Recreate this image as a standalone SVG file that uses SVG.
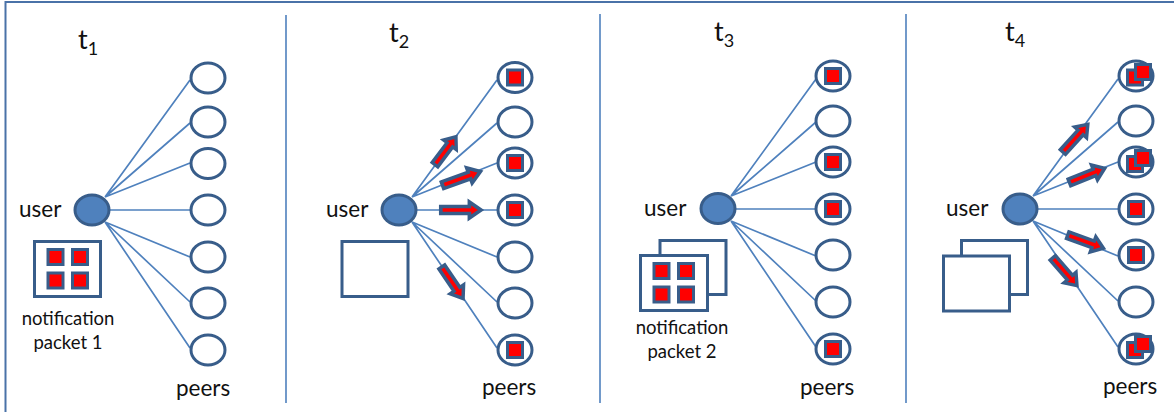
<svg xmlns="http://www.w3.org/2000/svg" width="1174" height="412" viewBox="0 0 1174 412">
<style>
text{font-family:"Lato","Liberation Sans",sans-serif;fill:#111;font-size:22.500px}
.small{font-size:18.500px;text-anchor:middle}
.t{font-size:27px}
.s{font-size:18px}
.l{stroke:#4f81bd;stroke-width:1.7;fill:none}
.p{fill:#fff;stroke:#385d8a;stroke-width:3}
.u{fill:#4f81bd;stroke:#385d8a;stroke-width:3}
.b{fill:#fff;stroke:#385d8a;stroke-width:3}
.r{fill:#f00;stroke:#385d8a;stroke-width:3}
.a{fill:#f00;stroke:#385d8a;stroke-width:3.500}
.d{stroke:#4f81bd;stroke-width:1.6;fill:none}
.f{stroke:#4a72a8;stroke-width:2;fill:none}
</style>
<defs>
<g id="fan">
<path class="l" d="M13 -13L98 -130M13 -13L98 -87M13 -13L98 -47M0 0L98 0M13 12L98 47M13 12L98 92M13 12L98 138"/>
</g>
<rect id="pk" class="r" x="-7.500" y="-7.500" width="15" height="15"/>
<path id="ar" class="a" d="M-20 -3.500L7 -3.500L7 -8L18 0L7 8L7 3.500L-20 3.500Z"/>
<g id="four">
<use href="#pk" x="55.500" y="257"/><use href="#pk" x="80" y="257"/>
<use href="#pk" x="55.500" y="280.500"/><use href="#pk" x="80" y="280.500"/>
</g>
<g id="ring"><ellipse class="p" rx="17" ry="15"/></g>
</defs>
<rect width="1174" height="412" fill="#fff"/>
<path class="f" d="M5.500 412V2H1174"/>
<g id="connectors">
<use href="#fan" x="92" y="210"/>
<use href="#fan" x="399" y="210"/>
<use href="#fan" x="718" y="209"/>
<use href="#fan" x="1020" y="209"/>
<path class="d" d="M286 15V403M600 14V403M906 14V403"/>
</g>
<g id="panel1">
<text x="78" y="49" class="t">t<tspan dy="6" class="s">1</tspan></text>
<text x="19" y="217">user</text>
<text x="176" y="396">peers</text>
<text x="68" y="325" class="small">notification</text>
<text x="68" y="349" class="small">packet 1</text>
</g>
<g id="panel2">
<text x="389" y="42" class="t">t<tspan dy="6" class="s">2</tspan></text>
<text x="326" y="217">user</text>
<text x="482" y="395">peers</text>
</g>
<g id="panel3">
<text x="714" y="41" class="t">t<tspan dy="6" class="s">3</tspan></text>
<text x="644" y="216">user</text>
<text x="800" y="395">peers</text>
<text x="682" y="334" class="small">notification</text>
<text x="682" y="358" class="small">packet 2</text>
</g>
<g id="panel4">
<text x="1005" y="41" class="t">t<tspan dy="6" class="s">4</tspan></text>
<text x="946" y="216">user</text>
<text x="1103" y="394">peers</text>
</g>
<g id="user1"><ellipse class="u" cx="92" cy="210" rx="17" ry="15"/></g>
<g id="user2"><ellipse class="u" cx="399" cy="210" rx="17" ry="15"/></g>
<g id="user3"><ellipse class="u" cx="718" cy="208.500" rx="17" ry="15"/></g>
<g id="user4"><ellipse class="u" cx="1020" cy="209" rx="17" ry="15"/></g>
<g id="packets">
<rect class="b" x="34.500" y="241.500" width="66" height="55"/>
<use href="#four"/>
<rect class="b" x="342" y="241.500" width="66" height="55"/>
<rect class="b" x="660" y="240.500" width="66" height="54"/>
<rect class="b" x="640.500" y="255.500" width="67" height="55"/>
<use href="#four" x="606" y="14"/>
<rect class="b" x="961.500" y="240.500" width="66" height="54"/>
<rect class="b" x="943.500" y="256" width="66" height="55"/>
</g>
<g id="peers1">
<use href="#ring" x="208" y="78"/><use href="#ring" x="208" y="122"/><use href="#ring" x="208" y="163.500"/><use href="#ring" x="208" y="210"/><use href="#ring" x="208" y="257"/><use href="#ring" x="208" y="303"/><use href="#ring" x="208" y="350"/>
</g>
<g id="peers2">
<use href="#ring" x="515" y="77.500"/><use href="#ring" x="515" y="122"/><use href="#ring" x="515" y="163"/><use href="#ring" x="515" y="210"/><use href="#ring" x="515" y="257"/><use href="#ring" x="515" y="303"/><use href="#ring" x="515" y="350"/>
<use href="#pk" x="515" y="77.500"/><use href="#pk" x="515" y="163"/><use href="#pk" x="515" y="210"/><use href="#pk" x="515" y="350"/>
</g>
<g id="peers3">
<use href="#ring" x="833" y="76"/><use href="#ring" x="833" y="121"/><use href="#ring" x="833" y="162"/><use href="#ring" x="833" y="209"/><use href="#ring" x="833" y="255"/><use href="#ring" x="833" y="302"/><use href="#ring" x="833" y="349"/>
<use href="#pk" x="833" y="76"/><use href="#pk" x="833" y="162"/><use href="#pk" x="833" y="209"/><use href="#pk" x="833" y="349"/>
</g>
<g id="peers4">
<use href="#ring" x="1136" y="76"/><use href="#ring" x="1136" y="121"/><use href="#ring" x="1136" y="162"/><use href="#ring" x="1136" y="209"/><use href="#ring" x="1136" y="255"/><use href="#ring" x="1136" y="302"/><use href="#ring" x="1136" y="349"/>
<use href="#pk" x="1135" y="77.500"/><use href="#pk" x="1143" y="72"/>
<use href="#pk" x="1135" y="164"/><use href="#pk" x="1143" y="158"/>
<use href="#pk" x="1135" y="350"/><use href="#pk" x="1143" y="344"/>
<use href="#pk" x="1136" y="209"/><use href="#pk" x="1136" y="255"/>
</g>
<g id="arrows">
<use href="#ar" transform="translate(446 150) rotate(-53) scale(.92 1)"/>
<use href="#ar" transform="translate(462.500 178) rotate(-20) scale(1.06 1)"/>
<use href="#ar" transform="translate(462 210) scale(1.06 1)"/>
<use href="#ar" transform="translate(453 283.500) rotate(56) scale(1 1)"/>
<use href="#ar" transform="translate(1076 137.500) rotate(-48) scale(.98 1)"/>
<use href="#ar" transform="translate(1088 175) rotate(-22) scale(1 1)"/>
<use href="#ar" transform="translate(1086.500 242) rotate(20) scale(1 1)"/>
<use href="#ar" transform="translate(1065.500 272.500) rotate(49) scale(.97 1)"/>
</g>
</svg>
